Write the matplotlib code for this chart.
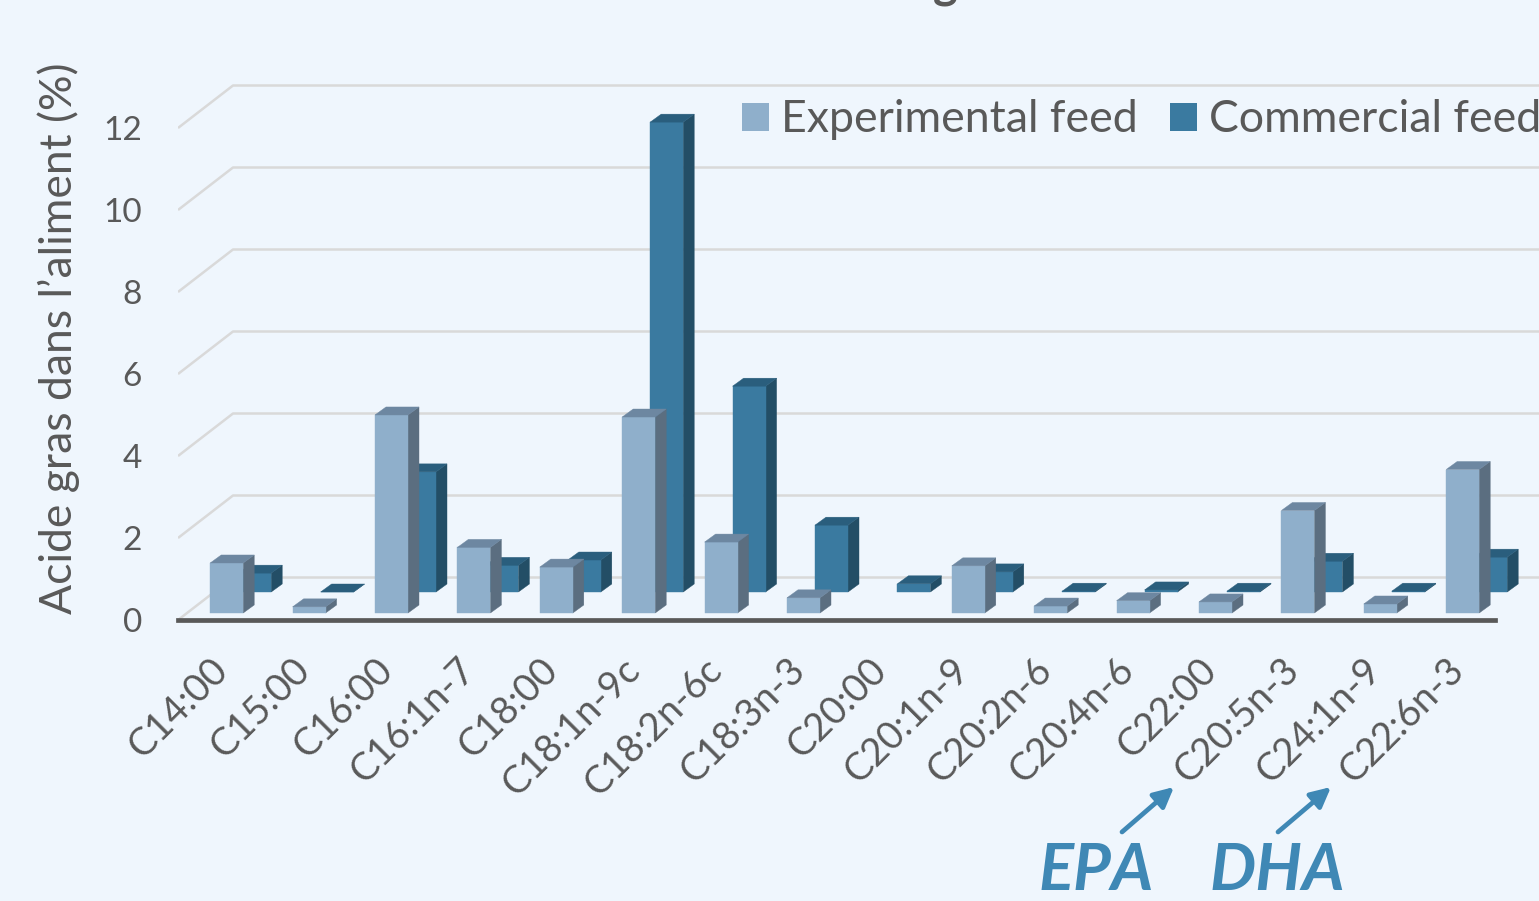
import matplotlib
matplotlib.use("Agg")
import matplotlib.pyplot as plt
from matplotlib.patches import Patch, Polygon

categories = ["C14:00", "C15:00", "C16:00", "C16:1n-7", "C18:00", "C18:1n-9c",
              "C18:2n-6c", "C18:3n-3", "C20:00", "C20:1n-9", "C20:2n-6", "C20:4n-6",
              "C22:00", "C20:5n-3", "C24:1n-9", "C22:6n-3"]
experimental = [1.22, 0.15, 4.83, 1.60, 1.12, 4.78, 1.73, 0.37,
                0.0, 1.15, 0.17, 0.30, 0.27, 2.50, 0.22, 3.50]
commercial = [0.46, 0.0, 2.93, 0.65, 0.78, 11.46, 5.02, 1.63,
              0.20, 0.49, 0.02, 0.05, 0.02, 0.75, 0.02, 0.85]
y_ticks = [0, 2, 4, 6, 8, 10, 12]

W, H = 1539, 901
BG = "#EFF6FD"
GREY = "#595959"
BLUE = "#3F88B5"
FONT = ["Lato", "DejaVu Sans"]

# pixel scales of the chart
PX_X = 82.4   # px per category
PX_Y = 41.0   # px per percent
LEFT, BASE = 178, 620


def px_x(p):
    return p / PX_X


def px_y(p):
    return p / PX_Y


def draw_bar(ax, i, value, off_x, off_y, front, side, top, z):
    """Draw a fake 3D bar: front face, side face, top face."""
    w, dx, dy = px_x(33), px_x(11), px_y(8)
    x0 = i + px_x(off_x)
    y0 = px_y(off_y)
    y1 = y0 + value
    x1 = x0 + w
    faces = [
        ([(x1, y0), (x1 + dx, y0 + dy), (x1 + dx, y1 + dy), (x1, y1)], side),
        ([(x0, y0), (x1, y0), (x1, y1), (x0, y1)], front),
        ([(x0, y1), (x1, y1), (x1 + dx, y1 + dy), (x0 + dx, y1 + dy)], top),
    ]
    for pts, col in faces:
        ax.add_patch(Polygon(pts, fc=col, ec=col, lw=0.3, zorder=z))


plt.rcParams["font.family"] = FONT
fig = plt.figure(figsize=(W / 100, H / 100), dpi=100, facecolor=BG)
ax = fig.add_axes([LEFT / W, (H - BASE) / H, 1 - LEFT / W, BASE / H], facecolor=BG)
ax.set_xlim(-0.5, (W - LEFT) / PX_X - 0.5)
ax.set_ylim(0, BASE / PX_Y)

# gridlines with the slanted part on the side wall
for v in y_ticks:
    ax.plot([-0.5, -0.5 + px_x(55), ax.get_xlim()[1]],
            [v, v + px_y(42.5), v + px_y(42.5)],
            color="#D9D9D9", lw=1.8, zorder=1, solid_capstyle="butt")

for i in range(len(categories)):
    draw_bar(ax, i, commercial[i], 19, 28, "#3A7AA0", "#234E66", "#2A5E7D", 3)
    if experimental[i] > 0:
        draw_bar(ax, i, experimental[i], -9, 7, "#8FAFCB", "#5B6E80", "#6D87A1", 3.5)

for name in ["top", "right", "left"]:
    ax.spines[name].set_visible(False)
ax.spines["bottom"].set_color(GREY)
ax.spines["bottom"].set_linewidth(3.4)
ax.spines["bottom"].set_bounds(-0.5, 15.48)
ax.spines["bottom"].set_zorder(4)

ax.set_yticks(y_ticks)
ax.set_xticks(range(len(categories)))
ax.set_xticklabels(categories, rotation=45, ha="right", va="top", rotation_mode="anchor")
ax.tick_params(axis="x", length=0, labelsize=27.5, labelcolor=GREY)
ax.tick_params(axis="y", length=0, labelsize=24, labelcolor=GREY, pad=26)

from matplotlib.transforms import ScaledTranslation
shift = ScaledTranslation(-10 / 100, -27 / 100, fig.dpi_scale_trans)
for lab in ax.get_xticklabels():
    lab.set_transform(lab.get_transform() + shift)

ax.set_ylabel("Acide gras dans l’aliment (%)", fontsize=32, color=GREY)
ax.yaxis.set_label_coords((80 - LEFT) / (W - LEFT), (BASE - 338) / BASE)

ax.legend(handles=[Patch(fc="#8FAFCB", ec="none", label="Experimental feed"),
                   Patch(fc="#3A7AA0", ec="none", label="Commercial feed")],
          ncol=2, frameon=False, fontsize=32.1, labelcolor=GREY,
          loc="center left",
          bbox_to_anchor=((742 - LEFT) / (W - LEFT), (BASE - 120) / BASE),
          borderpad=0, borderaxespad=0, handlelength=0.6, handleheight=0.6,
          handletextpad=0.28, columnspacing=0.72)

# the bottom of the title is cut by the top edge of the picture
fig.text(945 / W, 1 + 3 / H, "g", fontsize=34, fontweight="bold", color=GREY,
         ha="center", va="baseline")

for name, tx, x0, x1 in [("EPA", 1096, 1122, 1174), ("DHA", 1277, 1278, 1331)]:
    fig.text(tx / W, (H - 890) / H, name, fontsize=47, fontweight="bold", style="italic",
             color=BLUE, ha="center", va="baseline")
    ax.annotate("", xy=(x1, H - 787), xytext=(x0, H - 832),
                xycoords="figure pixels", textcoords="figure pixels",
                arrowprops=dict(arrowstyle="-|>,head_length=0.6,head_width=0.3",
                                color=BLUE, lw=3.4, shrinkA=0, shrinkB=0,
                                mutation_scale=20))

fig.savefig("out.png", dpi=100, facecolor=BG)
